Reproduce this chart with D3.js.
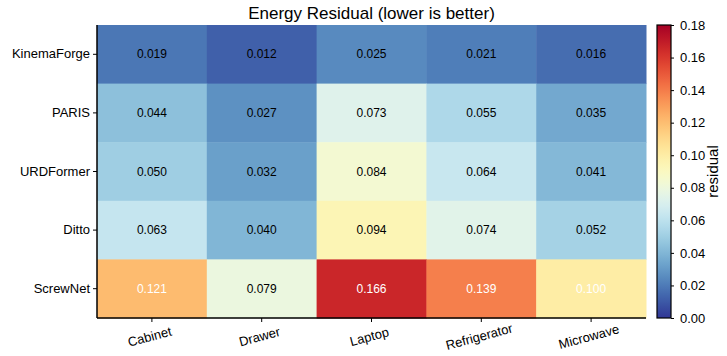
<!DOCTYPE html>
<html><head><meta charset="utf-8">
<script src="https://cdn.jsdelivr.net/npm/d3@7"></script>
<style>body{margin:0;background:#fff}svg{font-family:"Liberation Sans",Arial,Helvetica,sans-serif}</style>
</head><body>
<script>
const methods = ["KinemaForge","PARIS","URDFormer","Ditto","ScrewNet"];
const categories = ["Cabinet","Drawer","Laptop","Refrigerator","Microwave"];
const values = [
  [0.019,0.012,0.025,0.021,0.016],
  [0.044,0.027,0.073,0.055,0.035],
  [0.050,0.032,0.084,0.064,0.041],
  [0.063,0.040,0.094,0.074,0.052],
  [0.121,0.079,0.166,0.139,0.100]
];
const cbTicks = [0,0.02,0.04,0.06,0.08,0.10,0.12,0.14,0.16,0.18];
const vmin = 0, vmax = 0.18;

const W = 727, H = 356;
const m = {left:97, top:25, right:646, bottom:318};
const svg = d3.select("body").append("svg").attr("width",W).attr("height",H);

const x = d3.scaleBand().domain(categories).range([m.left,m.right]);
const y = d3.scaleBand().domain(methods).range([m.top,m.bottom]);
const color = d3.scaleSequential(t => d3.interpolateRdYlBu(1 - t)).domain([vmin,vmax]);

const cells = [];
values.forEach((row,i)=>row.forEach((v,j)=>cells.push({m:methods[i],c:categories[j],v})));

svg.append("g").selectAll("rect").data(cells).join("rect")
  .attr("x",d=>x(d.c)).attr("y",d=>y(d.m))
  .attr("width",x.bandwidth()+0.5).attr("height",y.bandwidth()+0.5)
  .attr("fill",d=>color(d.v));

svg.append("g").selectAll("text").data(cells).join("text")
  .attr("x",d=>x(d.c)+x.bandwidth()/2).attr("y",d=>y(d.m)+y.bandwidth()/2)
  .attr("text-anchor","middle").attr("dominant-baseline","central")
  .attr("font-size",12)
  .attr("fill",d=>d.v>=0.1?"#fff":"#000")
  .text(d=>d.v.toFixed(3));

// axes
const yAxis = svg.append("g").attr("transform",`translate(${m.left},0)`)
  .call(d3.axisLeft(y).tickSize(4).tickPadding(3));
yAxis.selectAll("text").attr("font-size",13).attr("fill","#000");
yAxis.select(".domain").attr("stroke","#000").attr("stroke-width",1.5).attr("d",`M0,${m.top}V${m.bottom}`);
yAxis.selectAll(".tick line").attr("stroke","#000");

const xAxis = svg.append("g").attr("transform",`translate(0,${m.bottom})`)
  .call(d3.axisBottom(x).tickSize(4).tickPadding(4));
xAxis.select(".domain").attr("stroke","#000").attr("stroke-width",1.5).attr("d",`M${m.left},0H${m.right}`);
xAxis.selectAll(".tick line").attr("stroke","#000");
xAxis.selectAll("text").attr("font-size",13).attr("fill","#000")
  .attr("text-anchor","middle").attr("dy","0").attr("y",0)
  .attr("transform","translate(-1,23) rotate(-15)");

// title
svg.append("text").attr("x",(m.left+m.right)/2).attr("y",19)
  .attr("text-anchor","middle").attr("font-size",17).attr("fill","#000")
  .text("Energy Residual (lower is better)");

// colorbar
const cb = {x:657, w:14, top:m.top, bottom:m.bottom};
const defs = svg.append("defs");
const grad = defs.append("linearGradient").attr("id","cbg").attr("x1","0").attr("y1","1").attr("x2","0").attr("y2","0");
d3.range(0,1.0001,0.02).forEach(t=>grad.append("stop").attr("offset",t).attr("stop-color",color(vmin+t*(vmax-vmin))));
svg.append("rect").attr("x",cb.x).attr("y",cb.top).attr("width",cb.w).attr("height",cb.bottom-cb.top)
  .attr("fill","url(#cbg)").attr("stroke","#000").attr("stroke-width",1.2);
const cy = d3.scaleLinear().domain([vmin,vmax]).range([cb.bottom,cb.top]);
const cAxis = svg.append("g").attr("transform",`translate(${cb.x+cb.w},0)`)
  .call(d3.axisRight(cy).tickValues(cbTicks).tickFormat(d3.format(".2f")).tickSize(3).tickPadding(6));
cAxis.select(".domain").remove();
cAxis.selectAll("text").attr("font-size",13).attr("fill","#000");
cAxis.selectAll(".tick line").attr("stroke","#000");
svg.append("text").attr("transform",`translate(718,${(cb.top+cb.bottom)/2}) rotate(-90)`)
  .attr("text-anchor","middle").attr("font-size",15).attr("fill","#000").text("residual");
</script>
</body></html>
